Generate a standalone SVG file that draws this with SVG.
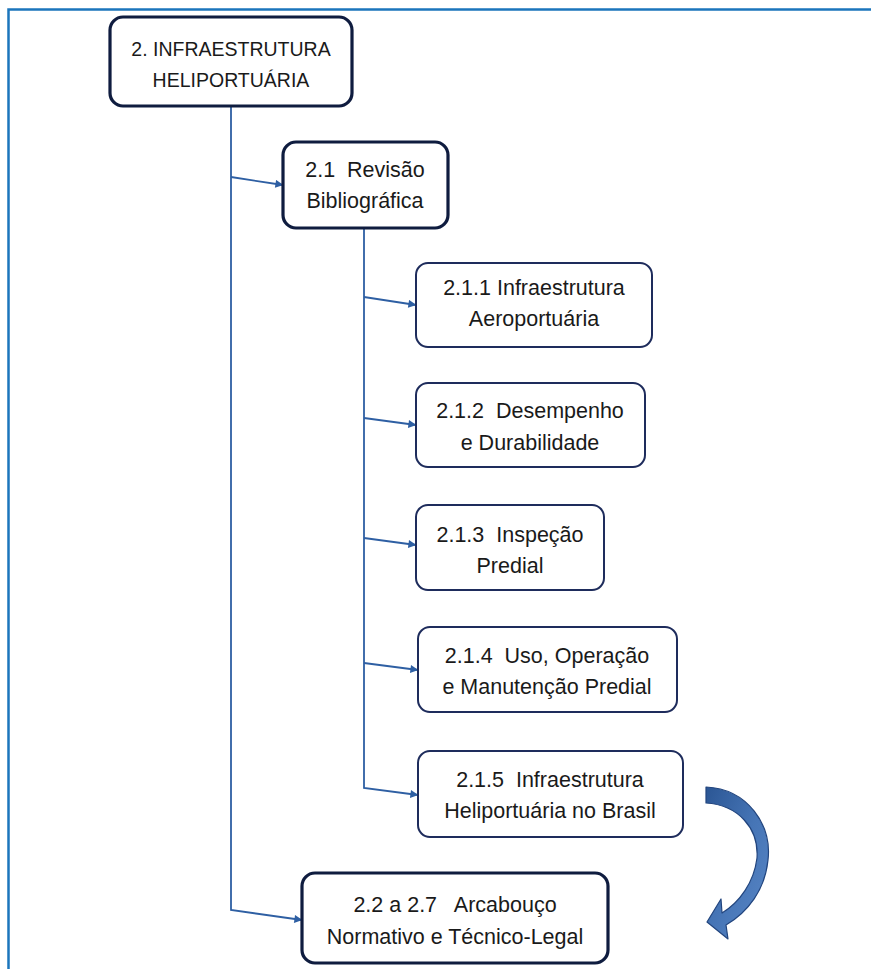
<svg xmlns="http://www.w3.org/2000/svg" width="871" height="969" viewBox="0 0 871 969">
<defs>
<marker id="ah" viewBox="0 0 10 10" refX="9.5" refY="5" markerWidth="10" markerHeight="8" markerUnits="userSpaceOnUse" orient="auto">
<path d="M0,0 L10,5 L0,10 Z" fill="#2e5fa3"/>
</marker>
<linearGradient id="cg" x1="0" y1="0" x2="1" y2="1">
<stop offset="0" stop-color="#2b5694"/>
<stop offset="0.5" stop-color="#4675b6"/>
<stop offset="1" stop-color="#5a87c6"/>
</linearGradient>
<style>
.main{fill:#fff;stroke:#0f1c3f;stroke-width:3.2}
.sub{fill:#fff;stroke:#1e2c5c;stroke-width:2}
text{font-family:"Liberation Sans",Arial,sans-serif;font-size:21.5px;fill:#1a1a1a;text-anchor:middle;white-space:pre}
.caps{font-size:19.5px}
.con{fill:none;stroke:#2e5fa3;stroke-width:1.8;marker-end:url(#ah)}
</style>
</defs>
<rect width="871" height="969" fill="#fff"/>
<g id="frame" fill="none" stroke="#1b75bc" stroke-width="2.5">
<path d="M8.5,969 V9.5 H871"/>
</g>
<g id="connectors">
<path class="con" d="M231,106 V910 L302,920"/>
<path class="con" d="M231,177 L283,185"/>
<path class="con" d="M364,228 V788 L418,795"/>
<path class="con" d="M364,297 L416,305"/>
<path class="con" d="M364,418 L416,425"/>
<path class="con" d="M364,538 L416,545"/>
<path class="con" d="M364,663 L418,670"/>
</g>
<g id="node-2">
<rect class="main" x="110" y="17" width="242" height="89" rx="13"/>
<text class="caps" x="231" y="56">2. INFRAESTRUTURA</text>
<text class="caps" x="231" y="87">HELIPORTUÁRIA</text>
</g>
<g id="node-2-1">
<rect class="main" x="283" y="142" width="165" height="86" rx="13"/>
<text x="365" y="177" xml:space="preserve">2.1  Revisão</text>
<text x="365" y="208">Bibliográfica</text>
</g>
<g id="node-2-1-1">
<rect class="sub" x="416" y="263" width="236" height="84" rx="12"/>
<text x="534" y="295">2.1.1 Infraestrutura</text>
<text x="534" y="326">Aeroportuária</text>
</g>
<g id="node-2-1-2">
<rect class="sub" x="416" y="383" width="229" height="84" rx="12"/>
<text x="530" y="418" xml:space="preserve">2.1.2  Desempenho</text>
<text x="530" y="450">e Durabilidade</text>
</g>
<g id="node-2-1-3">
<rect class="sub" x="416" y="505" width="188" height="85" rx="12"/>
<text x="510" y="542" xml:space="preserve">2.1.3  Inspeção</text>
<text x="510" y="573">Predial</text>
</g>
<g id="node-2-1-4">
<rect class="sub" x="418" y="627" width="259" height="85" rx="12"/>
<text x="547" y="663" xml:space="preserve">2.1.4  Uso, Operação</text>
<text x="547" y="694">e Manutenção Predial</text>
</g>
<g id="node-2-1-5">
<rect class="sub" x="418" y="751" width="265" height="86" rx="12"/>
<text x="550" y="787" xml:space="preserve">2.1.5  Infraestrutura</text>
<text x="550" y="818">Heliportuária no Brasil</text>
</g>
<g id="node-2-2">
<rect class="main" x="302" y="873" width="306" height="90" rx="13"/>
<text x="455" y="912" xml:space="preserve">2.2 a 2.7   Arcabouço</text>
<text x="455" y="944">Normativo e Técnico-Legal</text>
</g>
<g id="curved-arrow">
<path d="M706,787 C748,789 772,825 768,860 C765,890 748,912 726,925 L728,939 L707,922 L721,899 L722,913 C740,902 754,882 757,858 C759,828 738,805 706,803 Z" fill="url(#cg)" stroke="#22457e" stroke-width="1.2" stroke-linejoin="round"/>
</g>
</svg>
